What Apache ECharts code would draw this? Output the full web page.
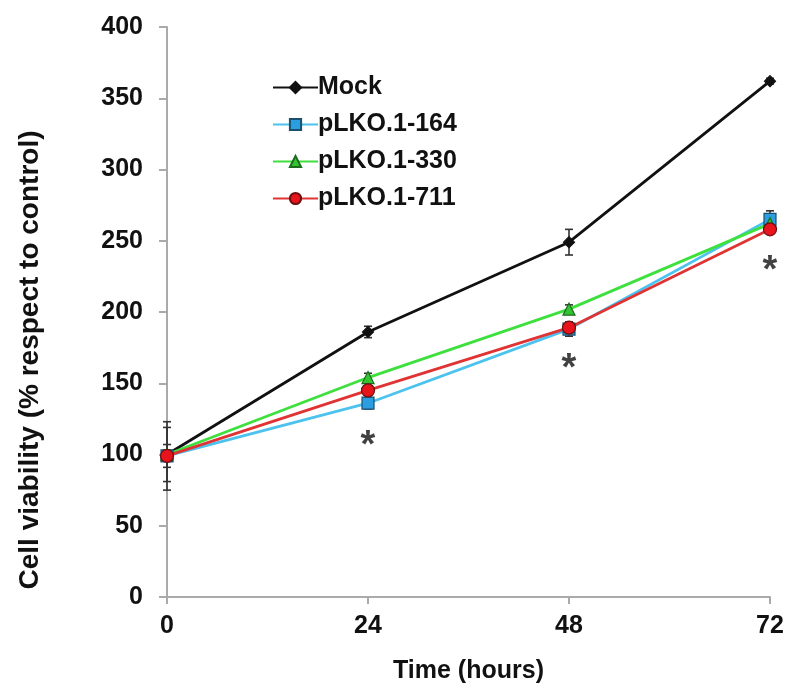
<!DOCTYPE html>
<html>
<head>
<meta charset="utf-8">
<script src="https://cdn.jsdelivr.net/npm/echarts@6/dist/echarts.min.js"></script>
<style>html,body{margin:0;padding:0;background:#fff}#c{width:788px;height:700px}</style>
</head>
<body>
<div id="c"></div>
<script>
const times = [0, 24, 48, 72];
const xTicks = [0, 24, 48, 72];
const seriesNames = ['Mock', 'pLKO.1-164', 'pLKO.1-330', 'pLKO.1-711'];
const mock = [100, 186, 249, 362];
const sh164 = [99, 136, 188, 265];
const sh330 = [100, 154, 202, 262];
const sh711 = [99, 145, 189, 258];
const mockErr = [3, 4, 9, 2];
const err164 = [24, 4, 5, 6];
const err330 = [19, 3, 3, 5];
const err711 = [8, 3, 4, 3];
const starX = [24, 48, 72];
const starY = [112, 166, 235];

const font = 'Liberation Sans, Arial, sans-serif';
const chart = echarts.init(document.getElementById('c'));

function pairs(v) { return times.map((t, i) => [t, v[i]]); }
function errData(v, e) { return times.map((t, i) => [t, v[i] - e[i], v[i] + e[i]]); }
function errSeries(v, e, color) {
  return {
    type: 'custom', z: 1, silent: true,
    data: errData(v, e),
    encode: { x: 0, y: [1, 2] },
    renderItem: function (params, api) {
      const x = api.value(0);
      const a = api.coord([x, api.value(1)]);
      const b = api.coord([x, api.value(2)]);
      const w = 4;
      const st = { stroke: color, lineWidth: 1.6 };
      return { type: 'group', children: [
        { type: 'line', shape: { x1: a[0], y1: a[1], x2: b[0], y2: b[1] }, style: st },
        { type: 'line', shape: { x1: a[0] - w, y1: a[1], x2: a[0] + w, y2: a[1] }, style: st },
        { type: 'line', shape: { x1: b[0] - w, y1: b[1], x2: b[0] + w, y2: b[1] }, style: st }
      ] };
    }
  };
}
function lineSeries(name, v, lineColor, symbol, size, fill, border) {
  return {
    name: name, type: 'line', z: 3, data: pairs(v),
    symbol: symbol, symbolSize: size, showAllSymbol: true,
    lineStyle: { color: lineColor, width: 2.8 },
    itemStyle: { color: fill, borderColor: border, borderWidth: 1.2 },
    emphasis: { disabled: true }
  };
}

chart.setOption({
  animation: false,
  backgroundColor: '#fff',
  grid: { left: 167, right: 18, top: 27, bottom: 103 },
  legend: {
    orient: 'vertical', left: 267, top: 70,
    itemWidth: 45, itemHeight: 14, itemGap: 12,
    data: seriesNames,
    textStyle: { fontFamily: font, fontWeight: 'bold', fontSize: 25, color: '#111', padding: [0, 0, 0, -5] }
  },
  xAxis: {
    type: 'value', min: 0, max: 72, interval: 24,
    name: 'Time (hours)', nameLocation: 'middle', nameGap: 62,
    nameTextStyle: { fontFamily: font, fontWeight: 'bold', fontSize: 25, color: '#111' },
    axisLine: { lineStyle: { color: '#aaa', width: 2 } },
    axisTick: { show: true, length: 7, lineStyle: { color: '#aaa', width: 2 } },
    axisLabel: { margin: 17, fontFamily: font, fontWeight: 'bold', fontSize: 25, color: '#111',
      formatter: v => xTicks.includes(v) ? String(v) : '' },
    splitLine: { show: false }
  },
  yAxis: {
    type: 'value', min: 0, max: 400, interval: 50,
    axisLine: { show: true, lineStyle: { color: '#aaa', width: 2 } },
    axisTick: { show: true, length: 8, lineStyle: { color: '#aaa', width: 2 } },
    axisLabel: { margin: 24, fontFamily: font, fontWeight: 'bold', fontSize: 25, color: '#111' },
    splitLine: { show: false }
  },
  graphic: [{
    type: 'text', x: 30, y: 360, rotation: Math.PI / 2,
    style: { text: 'Cell viability (% respect to control)', fontFamily: font, fontWeight: 'bold',
      fontSize: 28, fill: '#111', textAlign: 'center', textVerticalAlign: 'middle' }
  }],
  series: [
    errSeries(mock, mockErr, '#333'),
    errSeries(sh164, err164, '#333'),
    errSeries(sh330, err330, '#333'),
    errSeries(sh711, err711, '#333'),
    lineSeries('Mock', mock, '#111', 'diamond', 11, '#111', '#111'),
    lineSeries('pLKO.1-164', sh164, '#4cc3ee', 'rect', 12, '#2a9ee0', '#1a4f6e'),
    lineSeries('pLKO.1-330', sh330, '#3de03d', 'triangle', 12, '#33c433', '#1d6b1d'),
    lineSeries('pLKO.1-711', sh711, '#e03434', 'circle', 13, '#e8141c', '#6b1010'),
    {
      type: 'scatter', z: 4, symbolSize: 1, silent: true,
      itemStyle: { color: 'rgba(0,0,0,0)' },
      data: starX.map((x, i) => [x, starY[i]]),
      label: { show: true, position: 'inside', formatter: '*', fontFamily: font, fontWeight: 'bold',
        fontSize: 38, color: '#111', offset: [0, 9] }
    }
  ]
});
</script>
</body>
</html>
